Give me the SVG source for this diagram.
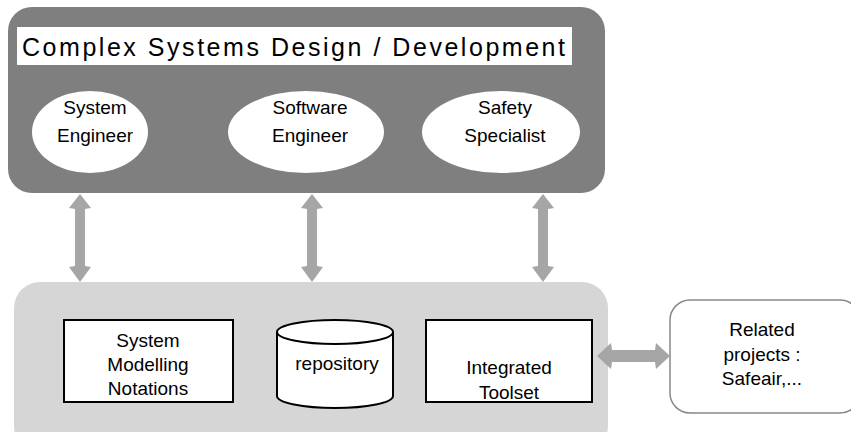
<svg xmlns="http://www.w3.org/2000/svg" width="851" height="432" viewBox="0 0 851 432">
<style>
text{font-family:"Liberation Sans",Arial,sans-serif;fill:#000;text-anchor:middle}
.lbl{font-size:19px}
.arr{fill:#a6a6a6}
.box{fill:#fff;stroke:#000;stroke-width:2}
</style>
<rect width="851" height="432" fill="#fff"/>
<g id="design">
<rect x="8" y="7" width="597" height="186" rx="24" fill="#7f7f7f"/>
<rect x="17" y="27" width="555" height="38" fill="#fff"/>
<text x="22" y="56" style="font-size:25px;text-anchor:start" textLength="543" lengthAdjust="spacing">Complex Systems  Design / Development</text>
</g>
<g id="system-engineer">
<ellipse cx="90" cy="132" rx="58" ry="41" fill="#fff"/>
<text class="lbl" x="95" y="114">System</text>
<text class="lbl" x="95" y="142">Engineer</text>
</g>
<g id="software-engineer">
<ellipse cx="306" cy="132" rx="78" ry="41" fill="#fff"/>
<text class="lbl" x="310" y="114">Software</text>
<text class="lbl" x="310" y="142">Engineer</text>
</g>
<g id="safety-specialist">
<ellipse cx="501" cy="132" rx="79" ry="41" fill="#fff"/>
<text class="lbl" x="505" y="114">Safety</text>
<text class="lbl" x="505" y="142">Specialist</text>
</g>
<g id="platform">
<rect x="14" y="282" width="594" height="170" rx="26" fill="#d6d6d6"/>
</g>
<g id="notations">
<rect class="box" x="64" y="320" width="169" height="82"/>
<text class="lbl" x="148" y="347">System</text>
<text class="lbl" x="148" y="371">Modelling</text>
<text class="lbl" x="148" y="395">Notations</text>
</g>
<g id="repository">
<path d="M277,332 L277,396 A58,12 0 0 0 393,396 L393,332 A58,12 0 0 0 277,332 Z" fill="#fff" stroke="#000" stroke-width="2"/>
<path d="M277,332 A58,12 0 0 0 393,332" fill="none" stroke="#000" stroke-width="2"/>
<text class="lbl" x="337" y="370">repository</text>
</g>
<g id="toolset">
<rect class="box" x="426" y="320" width="166" height="82"/>
<text class="lbl" x="509" y="374">Integrated</text>
<text class="lbl" x="509" y="399">Toolset</text>
</g>
<g id="related">
<rect x="670" y="300" width="190" height="113" rx="20" fill="#fff" stroke="#888" stroke-width="1.5"/>
<text class="lbl" x="762" y="336">Related</text>
<text class="lbl" x="762" y="361">projects :</text>
<text class="lbl" x="762" y="385">Safeair,...</text>
</g>
<g id="connectors">
<path class="arr" d="M80,194 L91,208 L85,209 L85,266 L91,267 L80,282 L69,267 L75,266 L75,209 L69,208 Z"/>
<path class="arr" d="M312,194 L323,208 L317,209 L317,266 L323,267 L312,282 L301,267 L307,266 L307,209 L301,208 Z"/>
<path class="arr" d="M543,194 L554,208 L548,209 L548,266 L554,267 L543,282 L532,267 L538,266 L538,209 L532,208 Z"/>
<path class="arr" d="M597,356 L611,343 L612,350 L655,350 L656,343 L670,356 L656,369 L655,362 L612,362 L611,369 Z"/>
</g>
</svg>
